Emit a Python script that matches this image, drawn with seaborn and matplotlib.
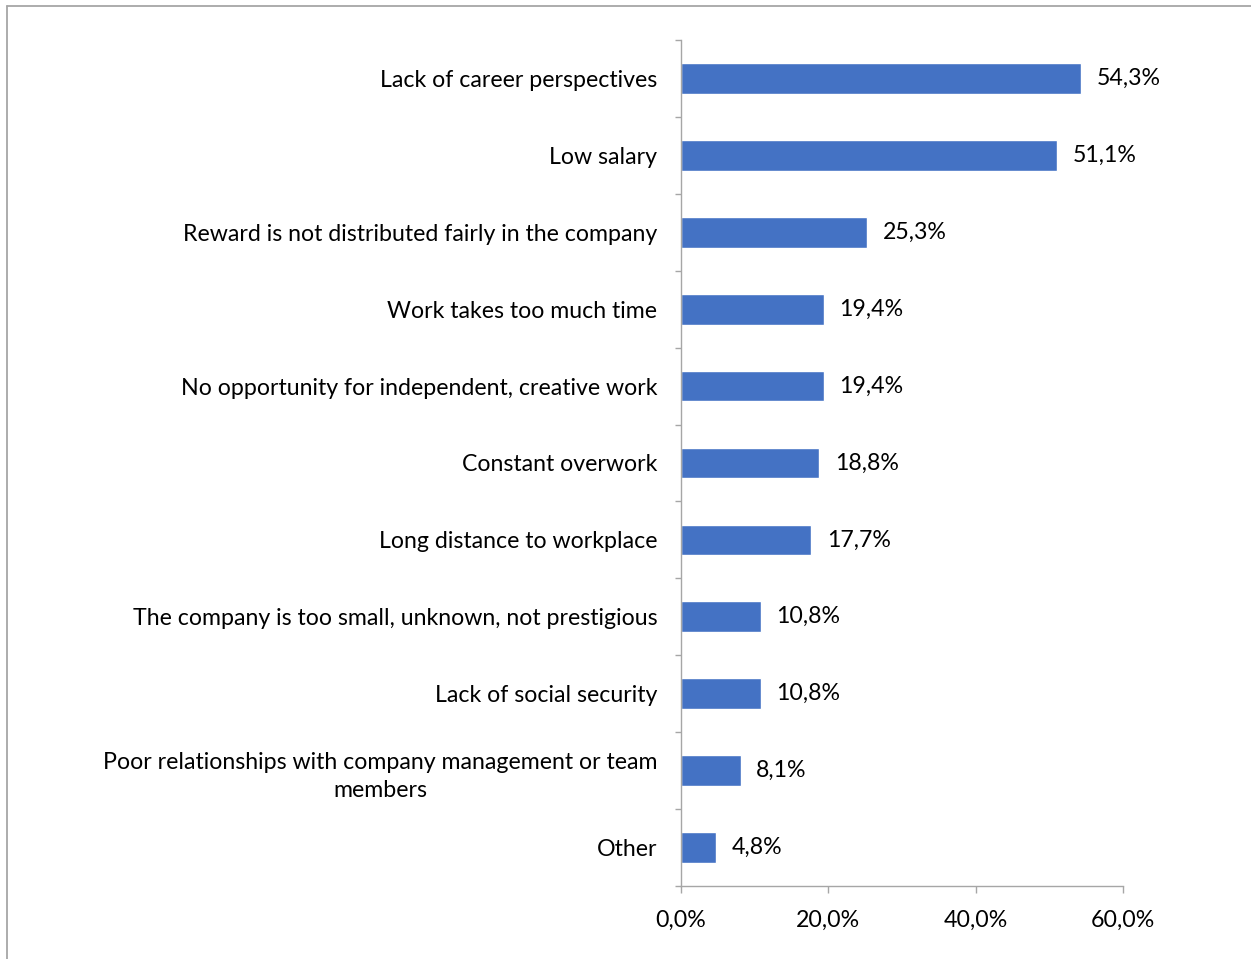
import matplotlib
matplotlib.use("Agg")
import matplotlib.pyplot as plt
import seaborn as sns
import pandas as pd
from matplotlib.lines import Line2D

categories = [
    "Lack of career perspectives",
    "Low salary",
    "Reward is not distributed fairly in the company",
    "Work takes too much time",
    "No opportunity for independent, creative work",
    "Constant overwork",
    "Long distance to workplace",
    "The company is too small, unknown, not prestigious",
    "Lack of social security",
    "Poor relationships with company management or team\nmembers",
    "Other",
]
values = [54.3, 51.1, 25.3, 19.4, 19.4, 18.8, 17.7, 10.8, 10.8, 8.1, 4.8]
x_ticks = [0, 20, 40, 60]
x_tick_labels = ["0,0%", "20,0%", "40,0%", "60,0%"]

sns.set_theme(style="white")
plt.rcParams["font.family"] = ["Lato", "DejaVu Sans"]

df = pd.DataFrame({"reason": categories, "share": values})

fig = plt.figure(figsize=(12.51, 9.59), dpi=100)
ax = fig.add_axes([681 / 1251, 1 - 886 / 959, (1123 - 681) / 1251, (886 - 40) / 959])

sns.barplot(data=df, y="reason", x="share", orient="h", color="#4472C4",
            saturation=1, width=0.4, ax=ax)

fs = 16.7
axis_grey = "#A6A6A6"
ax.set_xlim(0, 60)
ax.set_ylim(len(categories) - 0.5, -0.5)
ax.set_xticks(x_ticks)
ax.set_xticklabels(x_tick_labels, fontsize=fs, color="black")
ax.set_yticks(range(len(categories)))
ax.set_yticklabels(categories, fontsize=fs, color="black",
                   multialignment="center", linespacing=1.45)
ax.set_yticks([i - 0.5 for i in range(len(categories) + 1)], minor=True)
ax.tick_params(axis="y", which="major", length=0, pad=17)
ax.tick_params(axis="y", which="minor", length=4.5, width=1, color=axis_grey, direction="out", left=True)
ax.tick_params(axis="x", which="major", length=5, width=1, color=axis_grey, direction="out", pad=12, bottom=True)
ax.set_xlabel("")
ax.set_ylabel("")

for side in ("top", "right"):
    ax.spines[side].set_visible(False)
for side in ("left", "bottom"):
    ax.spines[side].set_visible(True)
    ax.spines[side].set_color(axis_grey)
    ax.spines[side].set_linewidth(1)

for i, v in enumerate(values):
    ax.annotate(f"{v:.1f}%".replace(".", ","), xy=(v, i), xytext=(11, 0),
                textcoords="offset points", va="center", ha="left",
                fontsize=fs, color="black")

# Outer chart frame (top and left edges)
fig.add_artist(Line2D([6.5 / 1251, 1], [1 - 5.5 / 959, 1 - 5.5 / 959],
                      transform=fig.transFigure, color="#A6A6A6", lw=1.3))
fig.add_artist(Line2D([6.5 / 1251, 6.5 / 1251], [0, 1 - 5.5 / 959],
                      transform=fig.transFigure, color="#A6A6A6", lw=1.3))

fig.savefig("out.png", dpi=100, facecolor="white")
